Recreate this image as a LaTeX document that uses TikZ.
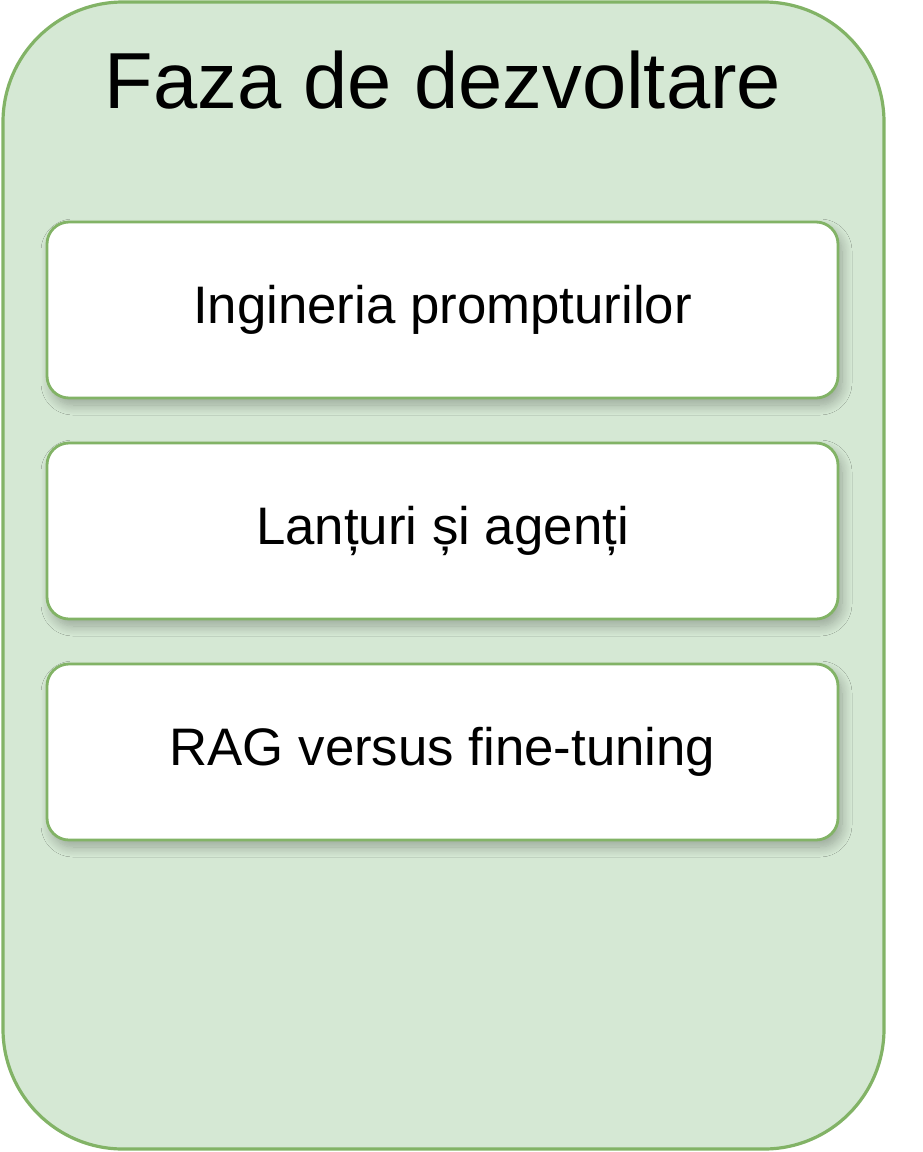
\documentclass[tikz,border=0pt]{standalone}
\usepackage{fontspec}
\setmainfont{Liberation Sans}
\usetikzlibrary{shadows.blur}
\definecolor{gfill}{HTML}{D5E8D4}
\definecolor{gline}{HTML}{82B366}
\begin{document}
\begin{tikzpicture}[x=1pt,y=-1pt,
  outerbox/.style={draw=gline, fill=gfill, line width=3.2pt, rounded corners=120pt},
  itembox/.style={draw=gline, fill=white, line width=2.8pt, rounded corners=22pt,
     minimum width=791pt, minimum height=176pt, inner sep=0pt,
     blur shadow={shadow xshift=4pt, shadow yshift=-7pt, shadow blur radius=10pt, shadow blur steps=12, shadow opacity=28},
     font=\fontsize{52.8}{62}\selectfont},
  titletext/.style={font=\fontsize{79.5}{94}\selectfont, inner sep=0pt}]
\useasboundingbox (0,0) rectangle (922,1152);
\draw[outerbox] (3,2) rectangle (884,1149);
\node[titletext] (title) at (443,80) {Faza de dezvoltare};
\node[itembox] (b1) at (442.5,310) {Ingineria prompturilor};
\node[itembox] (b2) at (442.5,531) {Lanțuri și agenți};
\node[itembox] (b3) at (442.5,752) {RAG versus fine-tuning};
\end{tikzpicture}
\end{document}
